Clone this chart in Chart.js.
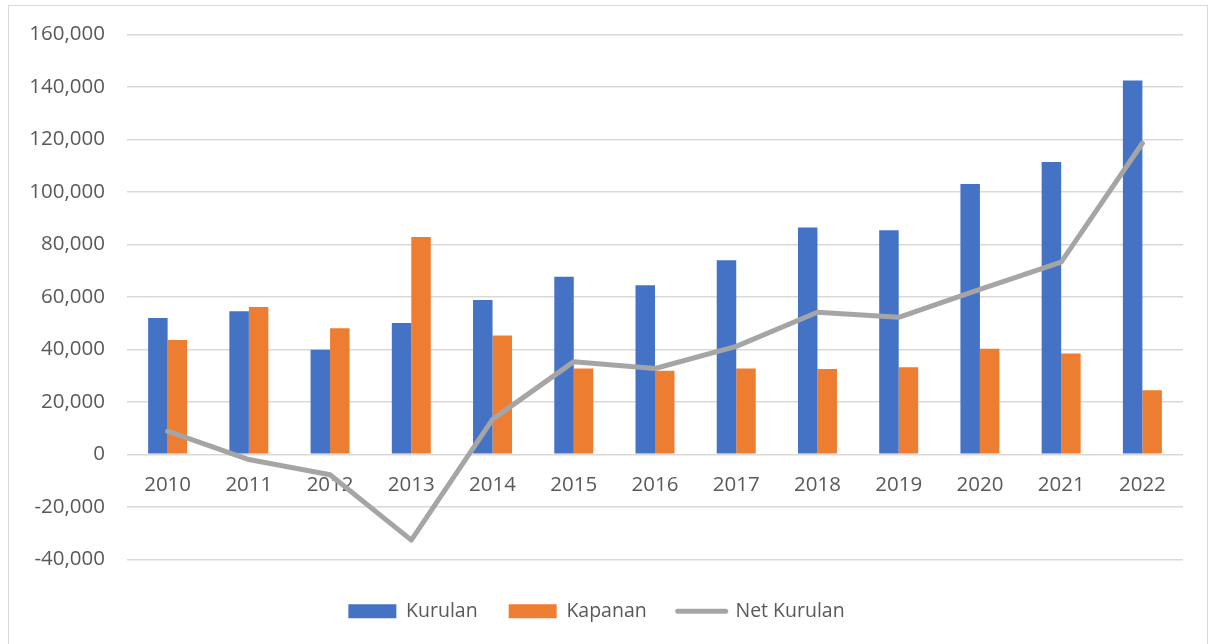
<!DOCTYPE html>
<html>
<head>
<meta charset="utf-8">
<script src="https://cdn.jsdelivr.net/npm/chart.js@4"></script>
<style>
  html, body { margin: 0; padding: 0; background: #fff; }
  #wrap { position: relative; width: 1208px; height: 644px; }
  #frame { position: absolute; left: 8px; top: 5px; width: 1200px; height: 640px; border: 1px solid #d9d9d9; box-sizing: border-box; }
  canvas { position: absolute; left: 0; top: 0; }
</style>
</head>
<body>
<div id="wrap">
  <div id="frame"></div>
  <canvas id="chart" width="1208" height="644"></canvas>
</div>
<script>
const years = ['2010', '2011', '2012', '2013', '2014', '2015', '2016', '2017', '2018', '2019', '2020', '2021', '2022'];
const kurulan = [51900, 54500, 39800, 50000, 58800, 67600, 64400, 73900, 86400, 85400, 103000, 111400, 142400];
const kapanan = [43500, 56100, 48000, 82800, 45300, 32700, 31800, 32700, 32500, 33200, 40200, 38400, 24400];
const netKurulan = [8800, -2000, -7800, -32700, 13300, 35300, 32700, 41100, 54100, 52200, 62800, 73200, 118500];
const yTicks = [-40000, -20000, 0, 20000, 40000, 60000, 80000, 100000, 120000, 140000, 160000];

const FONT = { family: "'Open Sans', 'Liberation Sans', sans-serif", size: 20.5 };
const TEXT = '#595959';

const ctx = document.getElementById('chart').getContext('2d');
new Chart(ctx, {
    data: {
        labels: years,
        datasets: [
            { type: 'bar', label: 'Kurulan', data: kurulan, backgroundColor: '#4472c4', order: 2,
              categoryPercentage: 0.48, barPercentage: 1.0 },
            { type: 'bar', label: 'Kapanan', data: kapanan, backgroundColor: '#ed7d31', order: 2,
              categoryPercentage: 0.48, barPercentage: 1.0 },
            { type: 'line', label: 'Net Kurulan', data: netKurulan, borderColor: '#a5a5a5', backgroundColor: '#a5a5a5',
              borderWidth: 5, pointRadius: 0, tension: 0, order: 1, borderCapStyle: 'round', borderJoinStyle: 'round' }
        ]
    },
    options: {
        responsive: false,
        animation: false,
        layout: { padding: { left: 10, right: 25, top: 24, bottom: 13 } },
        plugins: {
            tooltip: { enabled: false },
            legend: {
                position: 'bottom',
                // blank title only used as spacing above the legend row
                title: { display: true, text: ' ', font: { size: 1 }, padding: { top: 0, bottom: 10 } },
                labels: {
                    font: { family: FONT.family, size: 19.5 },
                    color: TEXT,
                    usePointStyle: true,
                    pointStyleWidth: 48,
                    boxHeight: 14,
                    padding: 31,
                    sort: (a, b) => a.datasetIndex - b.datasetIndex,
                    generateLabels(chart) {
                        const items = Chart.defaults.plugins.legend.labels.generateLabels(chart);
                        items.forEach(it => {
                            if (it.datasetIndex === 2) {
                                it.pointStyle = 'line';
                                it.lineWidth = 5;
                                it.strokeStyle = '#a5a5a5';
                                it.lineCap = 'round';
                            } else {
                                it.pointStyle = 'rect';
                                it.lineWidth = 0;
                            }
                        });
                        return items;
                    }
                }
            }
        },
        scales: {
            x: {
                position: { y: 0 },
                grid: { display: false },
                border: { display: false },
                ticks: { font: FONT, color: TEXT, padding: 11, maxRotation: 0 },
                afterFit(scale) { scale.height = 15; }
            },
            y: {
                min: -40000,
                max: 160000,
                afterBuildTicks(scale) { scale.ticks = yTicks.map(v => ({ value: v })); },
                afterFit(scale) { scale.width = 117; },
                grid: { color: '#d9d9d9', lineWidth: 1.5, drawTicks: false },
                border: { display: false },
                ticks: {
                    font: FONT, color: TEXT, padding: 22,
                    callback: v => v.toLocaleString('en-US')
                }
            }
        }
    }
});
</script>
</body>
</html>
